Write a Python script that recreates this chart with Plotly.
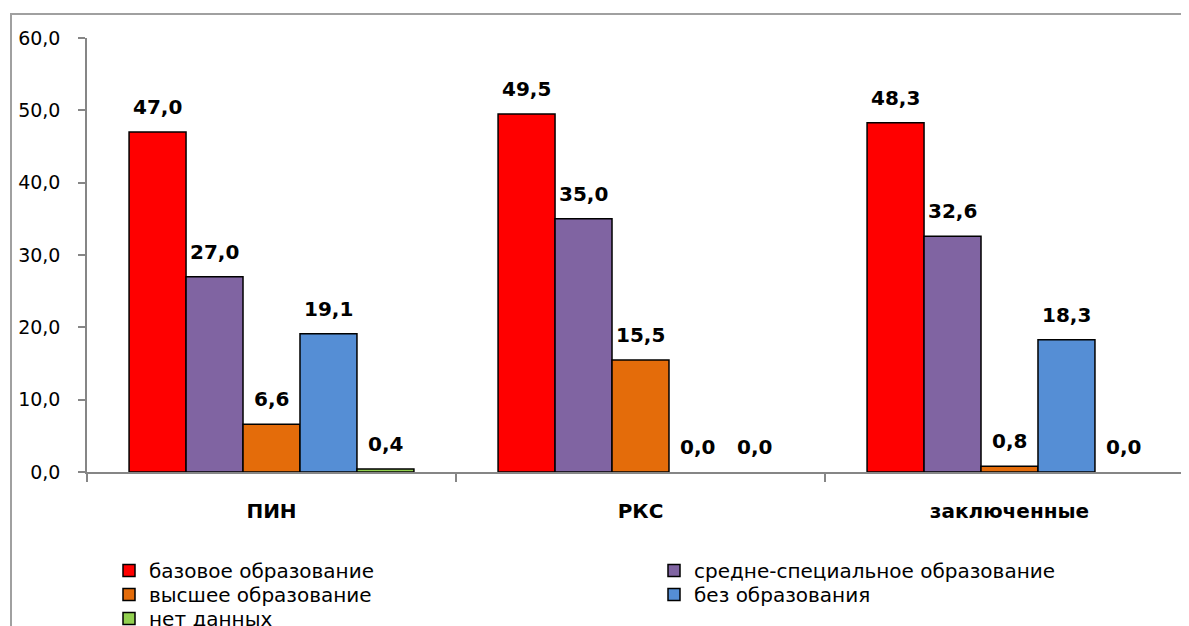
import plotly.graph_objects as go

categories = ["ПИН", "РКС", "заключенные"]
series_names = ["базовое образование", "средне-специальное образование",
                "высшее образование", "без образования", "нет данных"]
series_values = [
    [47.0, 49.5, 48.3],
    [27.0, 35.0, 32.6],
    [6.6, 15.5, 0.8],
    [19.1, 0.0, 18.3],
    [0.4, 0.0, 0.0],
]
series_colors = ["#FF0000", "#8064A2", "#E46C0A", "#558ED5", "#92D050"]
y_ticks = [0, 10, 20, 30, 40, 50, 60]

BARGAP = 0.228
n_series = len(series_names)
bar_w = (1 - BARGAP) / n_series

# page body has an 8px default margin
OFF = 8
W, H = 1189 - OFF, 626 - OFF
plot_left = 87 - OFF
plot_top = 38 - OFF
plot_bottom = 472 - OFF
plot_width = W - plot_left
plot_height = plot_bottom - plot_top
cat_px = 369

def px_x(x):
    return (x - OFF - plot_left) / plot_width

def px_y(y):
    return (plot_bottom - (y - OFF)) / plot_height

# legend layout: two columns, rows of 24px
legend_cols_px = [109, 654]
legend_row0_top = 551
legend_row_h = 24
legend_font = dict(family="DejaVu Sans", size=20, color="#000000")

fig = go.Figure()
legends = {}
for i, (name, vals, col) in enumerate(zip(series_names, series_values, series_colors)):
    key = "legend" if i == 0 else f"legend{i + 1}"
    fig.add_trace(go.Bar(
        x=categories, y=vals, name=name, legend=key,
        marker=dict(color=col,
                    line=dict(color="#000000", width=[1.5 if v > 0 else 0 for v in vals])),
    ))
    c, r = i % 2, i // 2
    legends[key] = dict(
        orientation="v", x=px_x(legend_cols_px[c]), xanchor="left",
        y=px_y(legend_row0_top + r * legend_row_h), yanchor="top",
        font=legend_font, bgcolor="rgba(0,0,0,0)",
    )

annotations = []
for i, vals in enumerate(series_values):
    for j, v in enumerate(vals):
        annotations.append(dict(
            x=j + (i - (n_series - 1) / 2) * bar_w, y=v, xref="x", yref="y",
            text=f"{v:.1f}".replace(".", ","), showarrow=False,
            yanchor="bottom", yshift=11,
            font=dict(family="DejaVu Sans", size=20, color="#000000", weight="bold"),
        ))

fig.update_layout(
    width=W, height=H,
    margin=dict(l=plot_left, r=0, t=plot_top, b=H - plot_bottom, autoexpand=False),
    paper_bgcolor="white", plot_bgcolor="white",
    barmode="group", bargap=BARGAP, bargroupgap=0,
    separators=", ",
    font=dict(family="DejaVu Sans", color="#000000"),
    annotations=annotations,
    showlegend=True,
    xaxis=dict(
        type="category", range=[-0.5, -0.5 + plot_width / cat_px],
        showline=True, linecolor="#868686", linewidth=1.5,
        ticks="outside", tickson="boundaries", ticklen=8, tickcolor="#868686", tickwidth=1.5,
        showgrid=False, zeroline=False,
        tickfont=dict(family="DejaVu Sans", size=20, color="#000000", weight="bold"),
        ticklabelstandoff=20,
    ),
    yaxis=dict(
        range=[0, 60], tickvals=y_ticks, tickformat=".1f",
        showline=True, linecolor="#868686", linewidth=1.5,
        ticks="outside", ticklen=7, tickcolor="#868686", tickwidth=1.5,
        showgrid=False, zeroline=False,
        tickfont=dict(family="DejaVu Sans", size=19, color="#000000"),
        ticklabelstandoff=14,
    ),
    shapes=[dict(
        type="rect", xref="paper", yref="paper",
        x0=px_x(11), x1=px_x(1260),
        y0=px_y(700), y1=px_y(14),
        line=dict(color="#A0A0A0", width=2), fillcolor="rgba(0,0,0,0)", layer="below",
    )],
)
fig.update_layout(**legends)

fig.write_html("out.html")
